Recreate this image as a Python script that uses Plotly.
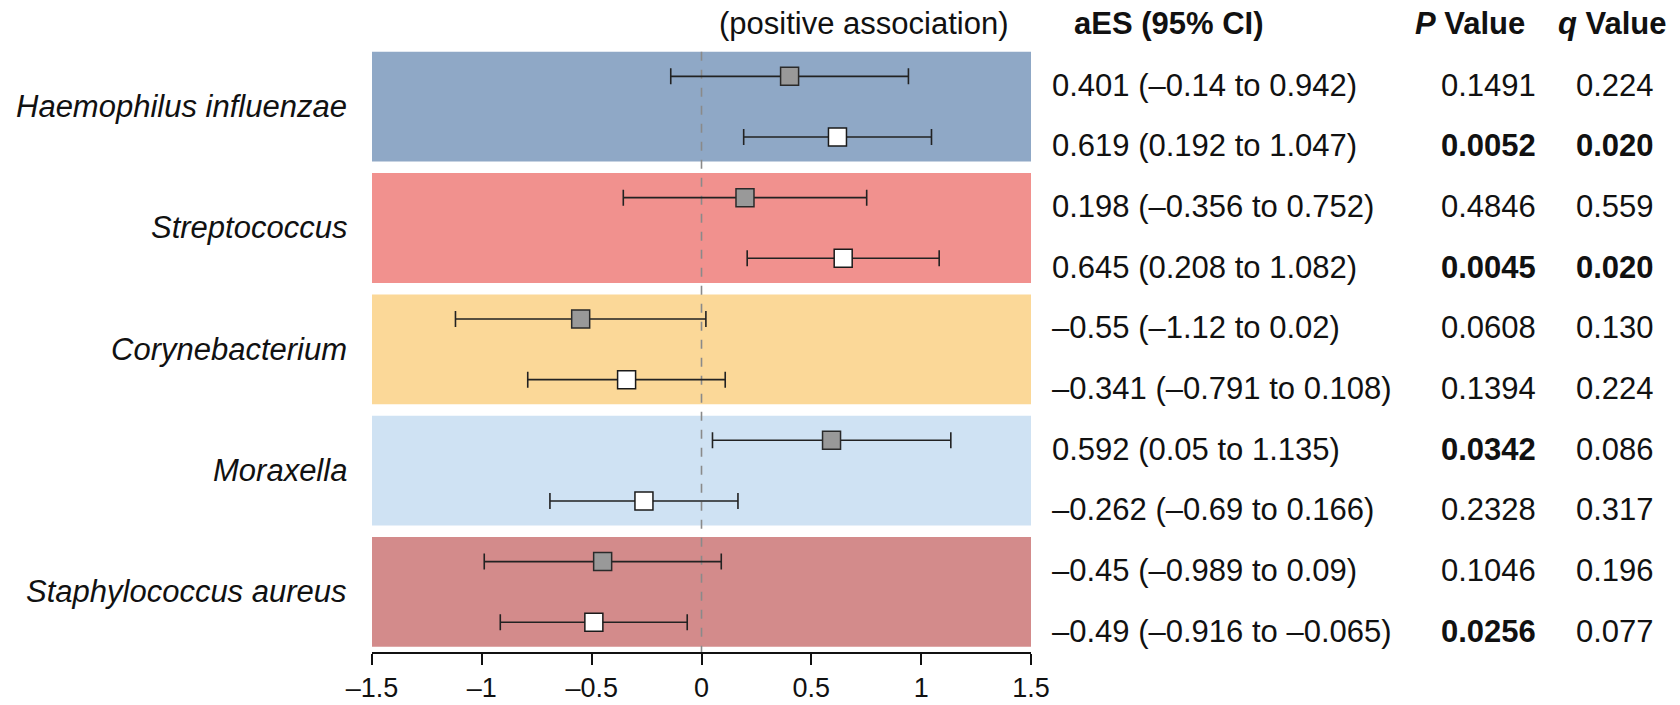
import plotly.graph_objects as go

# ---------------- data ----------------
species = ["Haemophilus influenzae", "Streptococcus", "Corynebacterium",
           "Moraxella", "Staphylococcus aureus"]
band_colors = ["#8FA8C6", "#F1918E", "#FBD898", "#CFE2F3", "#D38B8B"]

# two estimates per species (grey = first, white = second)
aes = [0.401, 0.619, 0.198, 0.645, -0.55, -0.341, 0.592, -0.262, -0.45, -0.49]
ci_lo = [-0.14, 0.192, -0.356, 0.208, -1.12, -0.791, 0.05, -0.69, -0.989, -0.916]
ci_hi = [0.942, 1.047, 0.752, 1.082, 0.02, 0.108, 1.135, 0.166, 0.09, -0.065]
aes_text = ["0.401 (–0.14 to 0.942)", "0.619 (0.192 to 1.047)",
            "0.198 (–0.356 to 0.752)", "0.645 (0.208 to 1.082)",
            "–0.55 (–1.12 to 0.02)", "–0.341 (–0.791 to 0.108)",
            "0.592 (0.05 to 1.135)", "–0.262 (–0.69 to 0.166)",
            "–0.45 (–0.989 to 0.09)", "–0.49 (–0.916 to –0.065)"]
p_values = ["0.1491", "0.0052", "0.4846", "0.0045", "0.0608",
            "0.1394", "0.0342", "0.2328", "0.1046", "0.0256"]
p_bold = [False, True, False, True, False, False, True, False, False, True]
q_values = ["0.224", "0.020", "0.559", "0.020", "0.130",
            "0.224", "0.086", "0.317", "0.196", "0.077"]
q_bold = [False, True, False, True, False, False, False, False, False, False]

tick_vals = [-1.5, -1, -0.5, 0, 0.5, 1, 1.5]
tick_text = ["–1.5", "–1", "–0.5", "0", "0.5", "1", "1.5"]

# ---------------- layout geometry ----------------
W_FIG, H_FIG = 1680, 705
L, R = 372, 1031          # plot area in px
T, B = 46, 652
PW = R - L
FONT = "Liberation Sans, Arial, Helvetica, sans-serif"
FS = 31
TXT = "#111111"

def px_x(px):
    return (px - L) / PW

rows = list(range(len(aes)))
grey_idx = [i for i in rows if i % 2 == 0]
white_idx = [i for i in rows if i % 2 == 1]

fig = go.Figure()

def add_series(idx, fill, line):
    fig.add_trace(go.Scatter(
        x=[aes[i] for i in idx],
        y=[i for i in idx],
        mode="markers",
        marker=dict(symbol="square", size=18, color=fill,
                    line=dict(color=line, width=1.5)),
        error_x=dict(type="data", symmetric=False,
                     array=[ci_hi[i] - aes[i] for i in idx],
                     arrayminus=[aes[i] - ci_lo[i] for i in idx],
                     color="#222222", thickness=1.6, width=8),
        showlegend=False, hoverinfo="skip", cliponaxis=False,
    ))

add_series(grey_idx, "#999999", "#2a2a2a")
add_series(white_idx, "#FFFFFF", "#1a1a1a")

shapes = []
for k, col in enumerate(band_colors):
    shapes.append(dict(type="rect", xref="x", yref="y", x0=-1.5, x1=1.5,
                       y0=2 * k - 0.405, y1=2 * k + 1.405,
                       fillcolor=col, line=dict(width=0), layer="below"))
shapes.append(dict(type="line", xref="x", yref="y", x0=0, x1=0,
                   y0=-0.405, y1=9.49,
                   line=dict(color="#8a8a8a", width=1.6, dash="dash"),
                   layer="below"))

ann = []
# species labels
for k, name in enumerate(species):
    ann.append(dict(x=px_x(349), xref="paper", y=2 * k + 0.5, yref="y",
                    text=f"<i>{name}</i>", showarrow=False,
                    xanchor="right", yanchor="middle",
                    font=dict(family=FONT, size=FS, color=TXT)))
# table rows
for i in rows:
    ann.append(dict(x=px_x(1050), xref="paper", y=i, yref="y", yshift=-9,
                    text=aes_text[i], showarrow=False,
                    xanchor="left", yanchor="middle",
                    font=dict(family=FONT, size=FS, color=TXT)))
    pt = f"<b>{p_values[i]}</b>" if p_bold[i] else p_values[i]
    ann.append(dict(x=px_x(1538), xref="paper", y=i, yref="y", yshift=-9,
                    text=pt, showarrow=False,
                    xanchor="right", yanchor="middle",
                    font=dict(family=FONT, size=FS, color=TXT)))
    qt = f"<b>{q_values[i]}</b>" if q_bold[i] else q_values[i]
    ann.append(dict(x=px_x(1615), xref="paper", y=i, yref="y", yshift=-9,
                    text=qt, showarrow=False,
                    xanchor="center", yanchor="middle",
                    font=dict(family=FONT, size=FS, color=TXT)))
# headers
HY = 1 + (T - 23) / (B - T)
ann.append(dict(x=px_x(863), xref="paper", y=HY, yref="paper",
                text="(positive association)", showarrow=False,
                xanchor="center", yanchor="middle",
                font=dict(family=FONT, size=FS, color=TXT)))
ann.append(dict(x=px_x(1169), xref="paper", y=HY, yref="paper",
                text="<b>aES (95% CI)</b>", showarrow=False,
                xanchor="center", yanchor="middle",
                font=dict(family=FONT, size=FS, color=TXT)))
ann.append(dict(x=px_x(1527), xref="paper", y=HY, yref="paper",
                text="<b><i>P</i> Value</b>", showarrow=False,
                xanchor="right", yanchor="middle",
                font=dict(family=FONT, size=FS, color=TXT)))
ann.append(dict(x=px_x(1612), xref="paper", y=HY, yref="paper",
                text="<b><i>q</i> Value</b>", showarrow=False,
                xanchor="center", yanchor="middle",
                font=dict(family=FONT, size=FS, color=TXT)))

fig.update_layout(
    width=W_FIG, height=H_FIG,
    margin=dict(l=L, r=W_FIG - R, t=T, b=H_FIG - B, pad=0, autoexpand=False),
    paper_bgcolor="white", plot_bgcolor="white",
    shapes=shapes, annotations=ann,
    xaxis=dict(range=[-1.5, 1.5], showgrid=False, zeroline=False,
               showline=True, linecolor="#111111", linewidth=1.6,
               ticks="outside", ticklen=11, tickwidth=1.6, tickcolor="#111111",
               tickvals=tick_vals, ticktext=tick_text, automargin=False,
               tickfont=dict(family=FONT, size=27, color=TXT), fixedrange=True),
    yaxis=dict(range=[9.49, -0.5], showgrid=False, zeroline=False,
               showline=False, showticklabels=False, ticks="", fixedrange=True,
               automargin=False),
)

fig.write_html("out.html", config={"displayModeBar": False})
